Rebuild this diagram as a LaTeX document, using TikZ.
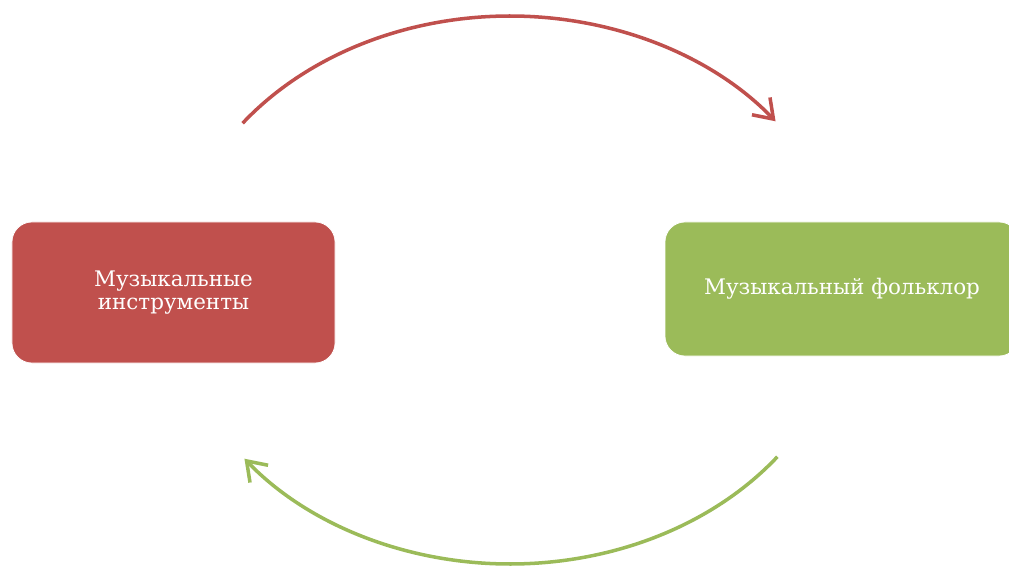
\documentclass[tikz,border=0pt]{standalone}
\usepackage{fontspec}
\setmainfont{DejaVu Serif}
\usepackage{xcolor}
\usepackage{tikz}
\usetikzlibrary{arrows.meta,calc}
\definecolor{instred}{HTML}{C0504D}
\definecolor{folkgreen}{HTML}{9BBB59}

\begin{document}
\begin{tikzpicture}[
  font=\fontsize{12.2}{13}\selectfont,
  b/.style={fill=#1, draw=white, rounded corners=0.4cm, align=center,
            text=white, inner sep=3pt},
  arr/.style={draw=#1, line width=2pt,
              -{Straight Barb[length=3.6mm, width=5mm, line width=2pt]}}]
\useasboundingbox (0,0) rectangle (20.18,-11.32);
\node[b=instred, minimum width=6.46cm, minimum height=2.82cm] (inst) at (3.47,-5.85)
  {Музыкальные\\инструменты};
\node[b=folkgreen, minimum width=7.08cm, minimum height=2.68cm] (folk) at (16.84,-5.78)
  {Музыкальный фольклор};
\coordinate (mid) at (10.2,-5.8);
\draw[arr=instred] ($(mid)+(142.5:6.74cm and 5.48cm)$)
  arc[start angle=142.5, end angle=38, x radius=6.74cm, y radius=5.48cm];
\draw[arr=folkgreen] ($(mid)+(-37.5:6.74cm and 5.48cm)$)
  arc[start angle=-37.5, end angle=-142, x radius=6.74cm, y radius=5.48cm];
\end{tikzpicture}
\end{document}
